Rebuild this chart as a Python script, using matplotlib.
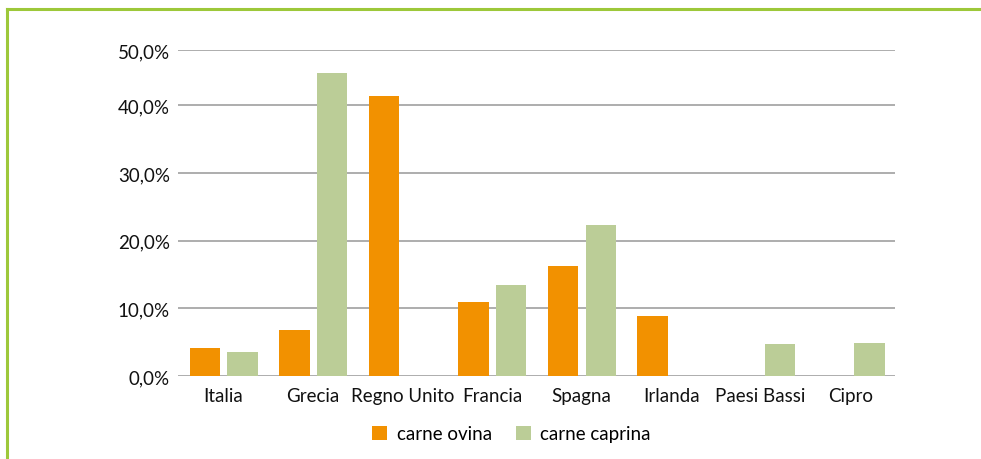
import numpy as np
import matplotlib.pyplot as plt
from matplotlib.lines import Line2D

# === Data ===
paesi = ["Italia", "Grecia", "Regno Unito", "Francia", "Spagna",
         "Irlanda", "Paesi Bassi", "Cipro"]
carne_ovina = [4.1, 6.8, 41.4, 10.9, 16.2, 8.9, 0.0, 0.0]
carne_caprina = [3.5, 44.8, 0.0, 13.4, 22.3, 0.0, 4.8, 4.9]

# the top gridline of the original sits a bit lower than a regular step
tick_vals = [0, 10, 20, 30, 40, 48.15]
tick_labels = ["0,0%", "10,0%", "20,0%", "30,0%", "40,0%", "50,0%"]

ARANCIO = "#F29100"
VERDE = "#BBCD97"

plt.rcParams['font.family'] = ['Lato', 'DejaVu Sans']

fig = plt.figure(figsize=(9.81, 4.6), dpi=100)
ax = fig.add_axes([0.1818, 0.1804, 0.7306, 0.7087])

x = np.arange(len(paesi))
w = 0.34
ax.bar(x - 0.205, carne_ovina, width=w, color=ARANCIO, label="carne ovina", zorder=3)
ax.bar(x + 0.215, carne_caprina, width=w, color=VERDE, label="carne caprina", zorder=3)

ax.set_xlim(-0.5, len(paesi) - 0.5)
ax.set_ylim(0, tick_vals[-1])
ax.set_yticks(tick_vals)
ax.set_yticklabels(tick_labels, fontsize=13.5, color="#111111")
ax.set_xticks(x)
ax.set_xticklabels(paesi, fontsize=13.5, color="#111111")
ax.tick_params(axis='both', length=0)
ax.tick_params(axis='y', pad=6)
ax.tick_params(axis='x', pad=8)

ax.grid(axis='y', color="#a0a0a0", linewidth=1.2, zorder=0)
for s in ax.spines.values():
    s.set_visible(False)

leg = ax.legend(loc='upper center', bbox_to_anchor=(0.465, -0.10), ncol=2,
                frameon=False, fontsize=13.5, handlelength=0.8, handleheight=0.8,
                handletextpad=0.5, columnspacing=1.3)

# green frame lines (top and left) of the original box
fig.add_artist(Line2D([0.0075, 1.0], [0.9793, 0.9793], color="#9DC83A", lw=2.2,
                      transform=fig.transFigure))
fig.add_artist(Line2D([0.0075, 0.0075], [0.0, 0.9793], color="#9DC83A", lw=2.2,
                      transform=fig.transFigure))

fig.savefig("out.png", dpi=100)
